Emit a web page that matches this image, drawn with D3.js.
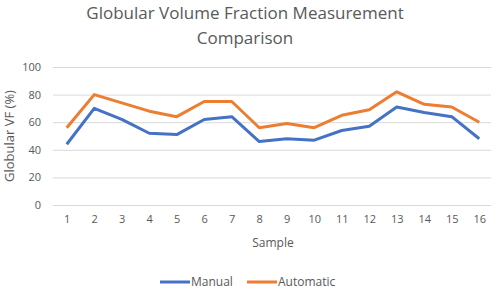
<!DOCTYPE html>
<html>
<head>
<meta charset="utf-8">
<script src="https://cdn.jsdelivr.net/npm/d3@7"></script>
<style>
  body { margin: 0; background: #fff; }
  text { font-family: "Open Sans", "Liberation Sans", sans-serif; fill: #595959; }
</style>
</head>
<body>
<div id="chart"></div>
<script>
// chart data
var samples = ["1","2","3","4","5","6","7","8","9","10","11","12","13","14","15","16"];
var manual = [44, 70, 62, 52, 51, 62, 64, 46, 48, 47, 54, 57, 71, 67, 64, 48];
var automatic = [56, 80, 74, 68, 64, 75, 75, 56, 59, 56, 65, 69, 82, 73, 71, 60];
var yTicks = [0, 20, 40, 60, 80, 100];
var seriesNames = ["Manual", "Automatic"];
var colors = ["#4472C4", "#ED7D31"];

var w = 491, h = 294;
var plotLeft = 53, plotRight = 493, plotTop = 67, plotBottom = 205;

var svg = d3.select("#chart").append("svg")
    .attr("width", w)
    .attr("height", h);

var x = d3.scalePoint().domain(samples).range([plotLeft, plotRight]).padding(0.5);
var y = d3.scaleLinear().domain([0, 100]).range([plotBottom, plotTop]);

// title
svg.append("text").attr("x", 245).attr("y", 19).attr("text-anchor", "middle")
    .style("font-size", "17px").text("Globular Volume Fraction Measurement");
svg.append("text").attr("x", 245).attr("y", 44).attr("text-anchor", "middle")
    .style("font-size", "17px").text("Comparison");

// gridlines + y labels
var yAxis = svg.append("g").attr("transform", "translate(" + plotLeft + ",0)")
    .call(d3.axisLeft(y).tickValues(yTicks).tickSize(-(plotRight - plotLeft)).tickPadding(12));
yAxis.select(".domain").remove();
yAxis.selectAll("line").attr("stroke", "#d9d9d9");
yAxis.selectAll("text").style("font-size", "11px").attr("font-family", null);

// x labels
var xAxis = svg.append("g").attr("transform", "translate(0," + plotBottom + ")")
    .call(d3.axisBottom(x).tickSize(0).tickPadding(10));
xAxis.select(".domain").remove();
xAxis.selectAll("text").style("font-size", "11px").attr("font-family", null);

// axis titles
svg.append("text").attr("transform", "translate(14," + ((plotTop + plotBottom) / 2) + ") rotate(-90)")
    .attr("text-anchor", "middle").style("font-size", "13px").text("Globular VF (%)");
svg.append("text").attr("x", (plotLeft + plotRight) / 2).attr("y", 247).attr("text-anchor", "middle")
    .style("font-size", "12px").text("Sample");

// lines
var line = d3.line()
    .x(function(d, i){ return x(samples[i]); })
    .y(function(d){ return y(d); });

[manual, automatic].forEach(function(vals, k){
    svg.append("path")
        .datum(vals)
        .attr("d", line)
        .attr("fill", "none")
        .attr("stroke", colors[k])
        .attr("stroke-width", 3)
        .attr("stroke-linejoin", "round");
});

// legend
var legendX = [160, 247];
seriesNames.forEach(function(name, k){
    var g = svg.append("g").attr("transform", "translate(" + legendX[k] + ",282)");
    g.append("line").attr("x1", 0).attr("x2", 30).attr("y1", 0).attr("y2", 0)
        .attr("stroke", colors[k]).attr("stroke-width", 3);
    g.append("text").attr("x", 31).attr("y", 4).style("font-size", "12px").text(name);
});
</script>
</body>
</html>
